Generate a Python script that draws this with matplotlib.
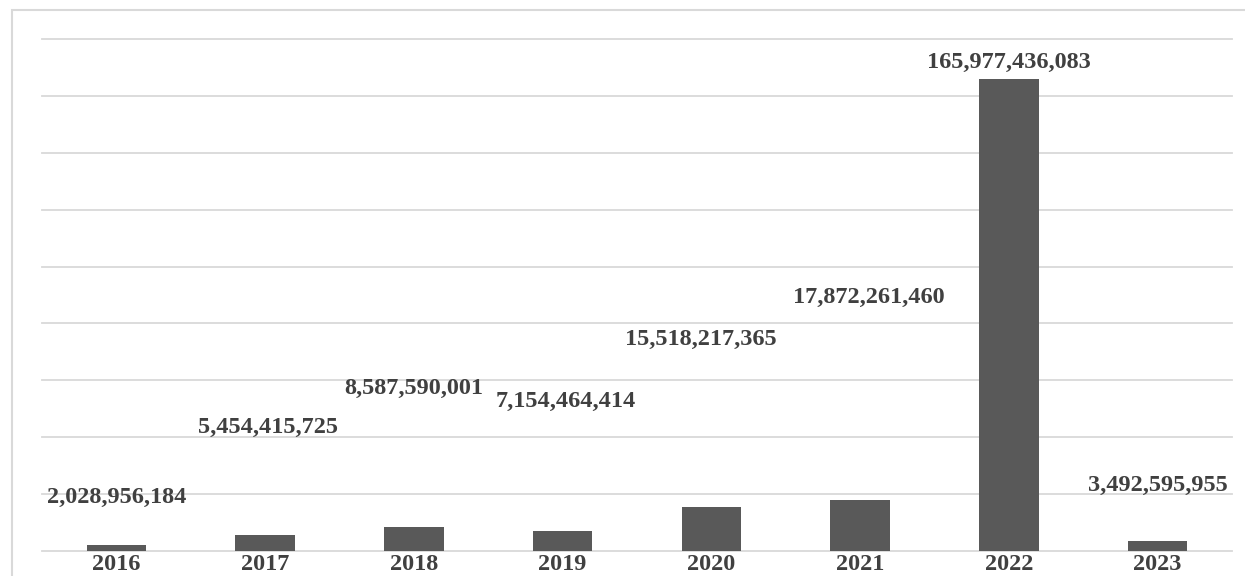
import matplotlib.pyplot as plt
from matplotlib.patches import Rectangle

# data
years = ["2016", "2017", "2018", "2019", "2020", "2021", "2022", "2023"]
values = [2028956184, 5454415725, 8587590001, 7154464414,
          15518217365, 17872261460, 165977436083, 3492595955]

# where the value labels sit (in axis units, the chart had them floating)
label_y = [19.0e9, 43.6e9, 57.3e9, 52.4e9, 74.2e9, 89.3e9, 171.9e9, 23.2e9]
label_dx = [0, 0.02, 0, 0.02, -0.074, 0.06, 0, 0]

bar_color = "#595959"
text_color = "#404040"
grid_color = "#d9d9d9"

plt.rcParams["font.family"] = ["Liberation Serif", "DejaVu Serif"]

fig = plt.figure(figsize=(12.45, 5.76), dpi=100)
ax = fig.add_axes([42 / 1245, 1 - 551 / 576, 1190 / 1245, 512 / 576])

x = range(len(years))
ax.bar(x, values, width=0.4, color=bar_color, zorder=2)

for i, (v, ly, dx) in enumerate(zip(values, label_y, label_dx)):
    ax.text(i + dx, ly, f"{v:,}", ha="center", va="center",
            fontsize=17.5, fontweight="bold", color=text_color)

ax.set_xlim(-0.5, len(years) - 0.5)
ax.set_ylim(0, 180e9)
ax.set_yticks([i * 20e9 for i in range(10)])
ax.yaxis.grid(True, color=grid_color, linewidth=1.3, zorder=0)
for gl in ax.get_ygridlines():
    gl.set_clip_on(False)   # top line sits on the axes edge
ax.set_yticklabels([])
ax.tick_params(axis="y", length=0)
ax.set_xticks(list(x))
ax.set_xticklabels(years, fontsize=17.5, fontweight="bold", color=text_color)
ax.tick_params(axis="x", length=0, pad=2)
for s in ax.spines.values():
    s.set_visible(False)

# light frame round the whole chart
fig.patches.append(Rectangle((12 / 1245, -0.1), 1.2, 1 - 10 / 576 + 0.1,
                             transform=fig.transFigure, fill=False,
                             edgecolor=grid_color, linewidth=1.5))

fig.savefig("out.png", dpi=100)
